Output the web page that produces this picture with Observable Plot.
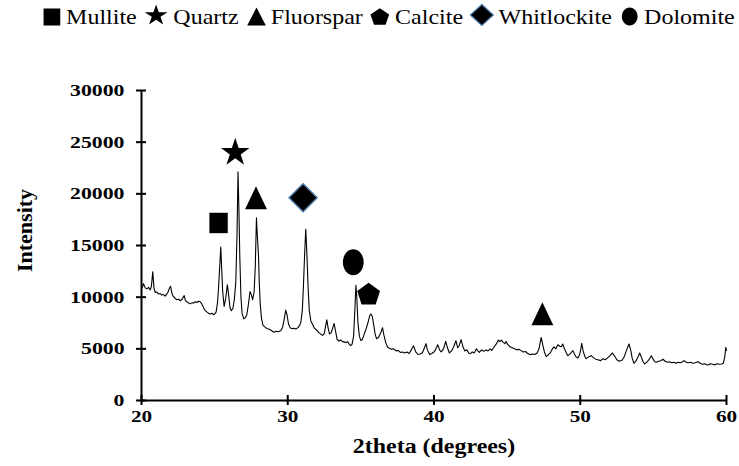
<!DOCTYPE html>
<html><head><meta charset="utf-8">
<script src="https://cdn.jsdelivr.net/npm/d3@7"></script>
<script src="https://cdn.jsdelivr.net/npm/@observablehq/plot@0.6"></script>
<style>
body{margin:0;background:#fff;width:739px;height:466px;overflow:hidden;font-family:"Liberation Serif",serif;position:relative}
#legend{position:absolute;left:41px;top:2px;white-space:nowrap;font-size:22px;line-height:30px;transform-origin:0 50%;color:#000}
#legend span{font-family:"Liberation Serif",serif;font-weight:normal}
#legend svg{vertical-align:-3px;margin-right:3px}
#chart{position:absolute;left:0;top:36px}
</style></head><body>
<div id="legend"></div><div id="chart"></div>
<script>
// ---- data ----
const twoTheta = [20.0,20.14,20.25,20.37,20.48,20.6,20.68,20.77,20.85,20.94,21.05,21.16,21.28,21.39,21.5,21.62,21.72,21.8,21.92,21.99,22.06,22.14,22.28,22.42,22.55,22.65,22.78,22.85,22.92,23.0,23.1,23.2,23.33,23.45,23.56,23.68,23.79,23.9,24.02,24.1,24.18,24.27,24.36,24.48,24.59,24.7,24.82,24.93,25.02,25.1,25.2,25.27,25.35,25.42,25.49,25.55,25.65,25.75,25.87,25.95,26.05,26.14,26.25,26.35,26.45,26.53,26.6,26.66,26.72,26.8,26.88,26.99,27.1,27.2,27.3,27.42,27.52,27.6,27.7,27.78,27.86,27.9,27.95,28.0,28.05,28.12,28.2,28.3,28.45,28.6,28.75,28.9,29.06,29.2,29.35,29.52,29.65,29.76,29.86,29.95,30.05,30.16,30.3,30.42,30.55,30.7,30.82,30.9,31.0,31.07,31.15,31.23,31.3,31.39,31.47,31.58,31.7,31.82,31.95,32.05,32.15,32.28,32.38,32.5,32.6,32.67,32.75,32.85,32.95,33.05,33.17,33.27,33.38,33.5,33.62,33.75,33.88,34.0,34.1,34.2,34.3,34.4,34.5,34.58,34.66,34.72,34.8,34.9,35.0,35.1,35.2,35.35,35.5,35.6,35.68,35.78,35.88,35.98,36.07,36.2,36.35,36.48,36.58,36.7,36.83,36.95,37.1,37.25,37.4,37.55,37.7,37.85,38.0,38.15,38.3,38.45,38.6,38.75,38.9,39.05,39.2,39.35,39.45,39.55,39.7,39.85,40.0,40.1,40.25,40.4,40.5,40.65,40.8,40.92,41.05,41.2,41.35,41.5,41.62,41.72,41.85,41.98,42.1,42.25,42.4,42.5,42.62,42.75,42.9,43.0,43.1,43.25,43.4,43.55,43.7,43.85,43.95,44.1,44.25,44.4,44.5,44.6,44.72,44.85,44.93,45.05,45.2,45.35,45.5,45.65,45.8,45.96,46.1,46.25,46.4,46.6,46.75,46.9,47.05,47.18,47.33,47.45,47.55,47.67,47.8,47.95,48.1,48.2,48.33,48.47,48.6,48.7,48.8,48.92,49.05,49.15,49.3,49.42,49.5,49.6,49.72,49.84,49.95,50.03,50.1,50.2,50.3,50.4,50.55,50.75,50.9,51.05,51.2,51.4,51.55,51.7,51.85,52.0,52.2,52.35,52.5,52.67,52.85,53.0,53.15,53.33,53.45,53.55,53.67,53.8,53.95,54.06,54.15,54.28,54.4,54.55,54.7,54.86,54.98,55.1,55.2,55.35,55.5,55.66,55.8,55.95,56.1,56.25,56.4,56.55,56.7,56.85,57.0,57.1,57.25,57.4,57.55,57.7,57.85,58.06,58.2,58.35,58.5,58.65,58.75,58.9,59.05,59.2,59.35,59.5,59.66,59.78,59.88,59.95,60.0];
const intensity = [10800,11300,10900,10800,10950,10700,11100,12450,10900,10450,10500,10300,10350,10200,10250,10100,10300,10450,10900,11050,10500,10150,9900,9750,9800,9650,9800,10000,10150,9700,9550,9450,9350,9450,9430,9550,9480,9600,9550,9400,9170,8900,8700,8550,8430,8380,8450,8300,8400,8550,9500,10930,13000,14860,12500,10600,9100,9800,11200,10300,9000,8690,8900,9800,11500,16000,22130,18500,14000,10000,8400,7900,8000,8300,9200,10550,10200,9750,10500,13000,17690,16500,15200,14000,11500,9300,8000,7300,7100,6950,6900,6750,6600,6700,6650,6750,7100,7900,8750,8300,7400,7050,6950,7000,6920,7050,7300,7600,8800,11000,14000,16570,14500,11000,8700,7700,7350,7000,6850,6700,6550,6400,6300,6500,7300,7800,7100,6450,6500,6900,7460,6700,5900,5750,5850,5700,5650,5600,5700,5450,5300,5450,6200,8500,11160,10000,7500,6200,5800,5900,6300,6900,7600,8200,8370,8150,7300,6400,5980,6100,6500,7040,6300,5600,5150,5050,4950,5000,4800,4850,4650,4700,4600,4700,4550,4900,5300,4700,4450,4500,4600,5100,5500,4900,4450,4550,4700,4900,5400,4850,4700,5000,5720,5100,4600,4800,5200,5790,5100,5300,5890,5200,4800,4900,4550,4530,4700,4600,5000,4800,4650,4900,4750,4900,4800,5000,4850,5150,5450,5850,5700,5850,5650,5500,5720,5400,5200,5100,5000,4900,4950,4825,4700,4750,4550,4440,4500,4450,4600,5000,6100,5300,4700,4250,4400,4600,5000,5200,5000,5400,5250,5200,5470,5000,4600,4340,4500,4700,4825,4500,4200,4120,4400,4900,5530,4800,4300,4050,4200,4340,4150,4000,3950,3860,4050,3950,4100,4300,4600,4300,3950,3800,3900,4200,4800,5470,4900,4100,3600,3800,4200,4600,4300,3800,3540,3700,3950,4340,4000,3750,3700,3800,3850,3990,3800,3700,3750,3650,3700,3600,3700,3650,3750,3860,3700,3650,3700,3600,3650,3760,3600,3500,3550,3450,3440,3550,3500,3450,3550,3500,3540,3600,4200,5150,4850];

const phaseNames = ["Mullite","Quartz","Fluorspar","Calcite","Whitlockite","Dolomite"];
const markerPhase = ["Mullite","Quartz","Fluorspar","Whitlockite","Dolomite","Calcite","Fluorspar"];
const markerTheta = [25.27,26.41,27.83,31.05,34.48,35.53,47.41];
const markerIntensity = [17180,24125,19620,19620,13380,10350,8400];

const xTicks = [20,30,40,50,60];
const yTicks = [0,5000,10000,15000,20000,25000,30000];
const xTitle = "2theta (degrees)";
const yTitle = "Intensity";

// ---- symbols ----
function polySym(pts){
  return {draw(ctx,size){const r=Math.sqrt(size/Math.PI);
    ctx.moveTo(pts[0][0]*r,pts[0][1]*r);
    for(let i=1;i<pts.length;i++) ctx.lineTo(pts[i][0]*r,pts[i][1]*r);
    ctx.closePath();}};
}
function starPts(){const p=[];for(let i=0;i<10;i++){const a=-Math.PI/2+i*Math.PI/5,rr=i%2?0.382:1;p.push([rr*Math.cos(a),rr*Math.sin(a)+0.095]);}return p;}
function pentPts(){const p=[];for(let i=0;i<5;i++){const a=-Math.PI/2+i*2*Math.PI/5;p.push([Math.cos(a),Math.sin(a)+0.095]);}return p;}
const ellipseSym = {draw(ctx,size){const r=Math.sqrt(size/Math.PI),rx=0.8*r,ry=r,k=0.5523;
  ctx.moveTo(rx,0);
  ctx.bezierCurveTo(rx,k*ry,k*rx,ry,0,ry);
  ctx.bezierCurveTo(-k*rx,ry,-rx,k*ry,-rx,0);
  ctx.bezierCurveTo(-rx,-k*ry,-k*rx,-ry,0,-ry);
  ctx.bezierCurveTo(k*rx,-ry,rx,-k*ry,rx,0);
  ctx.closePath();}};
const style = {
  Mullite:{sym:polySym([[-0.9,-1],[0.9,-1],[0.9,1],[-0.9,1]]),r:10.2,lr:8.5},
  Quartz:{sym:polySym(starPts()),r:15,lr:11},
  Fluorspar:{sym:polySym([[0,-1],[0.95,1],[-0.95,1]]),r:11.5,lr:9},
  Calcite:{sym:polySym(pentPts()),r:12,lr:9},
  Whitlockite:{sym:polySym([[0,-1],[1,0],[0,1],[-1,0]]),r:14,lr:10.5,stroke:"#4a74a8"},
  Dolomite:{sym:ellipseSym,r:13,lr:9}
};

// ---- legend ----
const legend = document.getElementById("legend");
legend.innerHTML = phaseNames.map(n=>{
  const s=style[n], p=d3.path(); s.sym.draw(p, Math.PI*s.lr*s.lr);
  const w=Math.ceil(2*s.lr+3);
  const sw = s.stroke?`stroke="${s.stroke}" stroke-width="1.2"`:"";
  return `<svg width="${w}" height="${w}" viewBox="${-w/2} ${-w/2} ${w} ${w}"><path d="${p}" fill="#000" ${sw}/></svg><span>${n}</span>`;
}).join(" ");

// ---- chart ----
const lineData = twoTheta.map((x,i)=>({x, y:intensity[i]}));
const markerData = markerPhase.map((p,i)=>({p, x:markerTheta[i], y:markerIntensity[i]}));

const chart = Plot.plot({
  width:739, height:430,
  marginLeft:141, marginRight:13, marginTop:54, marginBottom:66,
  x:{domain:[20,60]},
  y:{domain:[0,30000]},
  style:{background:"#fff", color:"#000"},
  marks:[
    Plot.line(lineData,{x:"x",y:"y",stroke:"#000",strokeWidth:1.1}),
    Plot.ruleX([20],{stroke:"#000",strokeWidth:2}),
    Plot.ruleY([0],{stroke:"#000",strokeWidth:2}),
    Plot.axisY({ticks:yTicks,tickSize:10,dx:5,tickFormat:()=>"",label:null,strokeWidth:2}),
    Plot.axisX({ticks:xTicks,tickSize:10,dy:-5,tickFormat:()=>"",label:null,strokeWidth:2}),
    Plot.axisY({ticks:yTicks,tickSize:0,tickPadding:17,label:null,tickFormat:d=>String(d)}),
    Plot.axisX({ticks:xTicks,tickSize:0,tickPadding:9,label:null,tickFormat:d=>String(d)}),
    Plot.text([xTitle],{text:d=>d,frameAnchor:"bottom",dy:46,lineAnchor:"middle",textAnchor:"middle",fontSize:21,fontWeight:"bold"}),
    Plot.text([yTitle],{text:d=>d,frameAnchor:"left",dx:-116,dy:-15,rotate:-90,lineAnchor:"middle",textAnchor:"middle",fontSize:21,fontWeight:"bold"}),
    ...phaseNames.map(n=>Plot.dot(markerData.filter(d=>d.p===n),{x:"x",y:"y",symbol:style[n].sym,r:style[n].r,fill:"#000",stroke:style[n].stroke||"none",strokeWidth:1.5}))
  ]
});
document.getElementById("chart").appendChild(chart);

function styleText(texts,size,s){
  texts.forEach(t=>{
    t.style.fontFamily = '"Liberation Serif", serif';
    t.style.fontSize = size+"px";
    t.style.fontWeight = "bold";
    t.setAttribute("fill","#000");
    const ax=+t.getAttribute("x")||0, ay=+t.getAttribute("y")||0, T=t.getAttribute("transform")||"";
    t.setAttribute("transform",`${T} translate(${ax},${ay}) scale(${s},1) translate(${-ax},${-ay})`);
  });
}
const allText = [...chart.querySelectorAll("text")];
styleText(chart.querySelectorAll('g[aria-label="y-axis tick label"] text'),17,1.28);
styleText(chart.querySelectorAll('g[aria-label="x-axis tick label"] text'),17,1.25);
styleText(allText.filter(t=>t.textContent===xTitle),21,1.14);
styleText(allText.filter(t=>t.textContent===yTitle),21,1.05);

// fit legend to its span
const lw = legend.scrollWidth;
legend.style.transform = `scaleX(${694/lw})`;
</script>
</body></html>
